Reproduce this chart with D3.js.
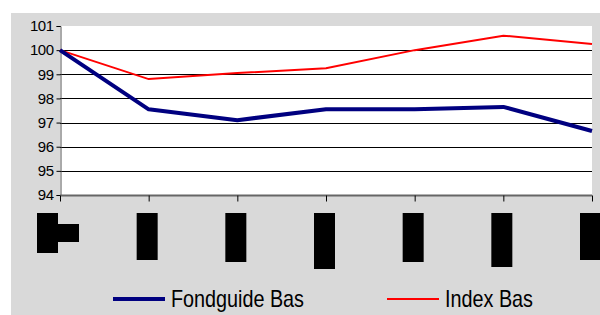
<!DOCTYPE html>
<html>
<head>
<meta charset="utf-8">
<script src="https://cdn.jsdelivr.net/npm/d3@7"></script>
<style>
  body { margin: 0; background: #fff; }
  svg { display: block; font-family: "Liberation Sans", Arial, sans-serif; }
</style>
</head>
<body>
<svg width="600" height="315"></svg>
<script>
const categories = ['1', '2', '3', '4', '5', '6', '7'];
const fondguide = [100, 97.55, 97.1, 97.55, 97.55, 97.65, 96.65];
const indexBas = [100, 98.8, 99.05, 99.25, 100, 100.6, 100.25];
const yTicks = [94, 95, 96, 97, 98, 99, 100, 101];
// redacted x labels, drawn as black blocks (depth in px)
const blockDepth = [40, 47, 49, 56, 49, 54, 47];

const svg = d3.select('svg');
const W = 600, H = 315;
const plot = { left: 60, right: 592, top: 26, bottom: 195 };

svg.append('rect').attr('x', 11).attr('y', 13).attr('width', W - 11).attr('height', H - 13).attr('fill', '#d9d9d9');

const x = d3.scalePoint().domain(categories).range([plot.left, plot.right]);
const y = d3.scaleLinear().domain([94, 101]).range([plot.bottom, plot.top]);

svg.append('rect').attr('x', plot.left).attr('y', plot.top)
  .attr('width', plot.right - plot.left).attr('height', plot.bottom - plot.top).attr('fill', '#fff');

// gridlines
svg.append('g').selectAll('line')
  .data(yTicks.filter(t => t > 94 && t < 101))
  .join('line')
  .attr('x1', plot.left).attr('x2', plot.right)
  .attr('y1', d => Math.round(y(d)) + 0.5).attr('y2', d => Math.round(y(d)) + 0.5)
  .attr('stroke', '#000').attr('stroke-width', 1);

// y axis
const yAxis = svg.append('g').attr('transform', `translate(${plot.left + 0.5},0)`)
  .call(d3.axisLeft(y).tickValues(yTicks).tickFormat(d3.format('d')).tickSize(4).tickPadding(3));
yAxis.select('.domain').attr('stroke', '#555');
yAxis.selectAll('.tick line').attr('stroke', '#000');
yAxis.selectAll('text').attr('font-size', 15).attr('fill', '#000')
  .attr('font-family', '"Liberation Sans", Arial, sans-serif').attr('letter-spacing', -0.5);

// x axis
const xAxis = svg.append('g').attr('transform', `translate(0,${plot.bottom + 0.5})`)
  .call(d3.axisBottom(x).tickSize(6).tickFormat(''));
xAxis.select('.domain').attr('stroke', '#666').attr('stroke-width', 2).attr('d', `M${plot.left},0H${plot.right}`);
xAxis.selectAll('.tick line').attr('stroke', '#000');

// redacted labels
svg.append('g').selectAll('rect')
  .data(categories)
  .join('rect')
  .attr('x', (d, i) => x(d) - (i === 0 ? 23 : 12))
  .attr('y', 213)
  .attr('width', 21)
  .attr('height', (d, i) => blockDepth[i])
  .attr('fill', '#000');
svg.append('rect').attr('x', x(categories[0]) - 2).attr('y', 224).attr('width', 21).attr('height', 18).attr('fill', '#000');

const line = d3.line().x((d, i) => x(categories[i])).y(d => y(d));

svg.append('path').datum(indexBas).attr('d', line)
  .attr('fill', 'none').attr('stroke', '#ff0000').attr('stroke-width', 2);
svg.append('path').datum(fondguide).attr('d', line)
  .attr('fill', 'none').attr('stroke', '#000080').attr('stroke-width', 4).attr('stroke-linejoin', 'round');

// legend
const legend = [
  { name: 'Fondguide Bas', color: '#000080', w: 4, x: 113, len: 133 },
  { name: 'Index Bas', color: '#ff0000', w: 2, x: 387, len: 88 }
];
const lg = svg.append('g').selectAll('g').data(legend).join('g')
  .attr('transform', d => `translate(${d.x},299)`);
lg.append('line').attr('x1', 0).attr('x2', 52).attr('stroke', d => d.color).attr('stroke-width', d => d.w);
lg.append('text').attr('x', 58).attr('y', 7.5).attr('font-size', 24)
  .attr('textLength', d => d.len).attr('lengthAdjust', 'spacingAndGlyphs')
  .attr('fill', '#000').text(d => d.name);
</script>
</body>
</html>
